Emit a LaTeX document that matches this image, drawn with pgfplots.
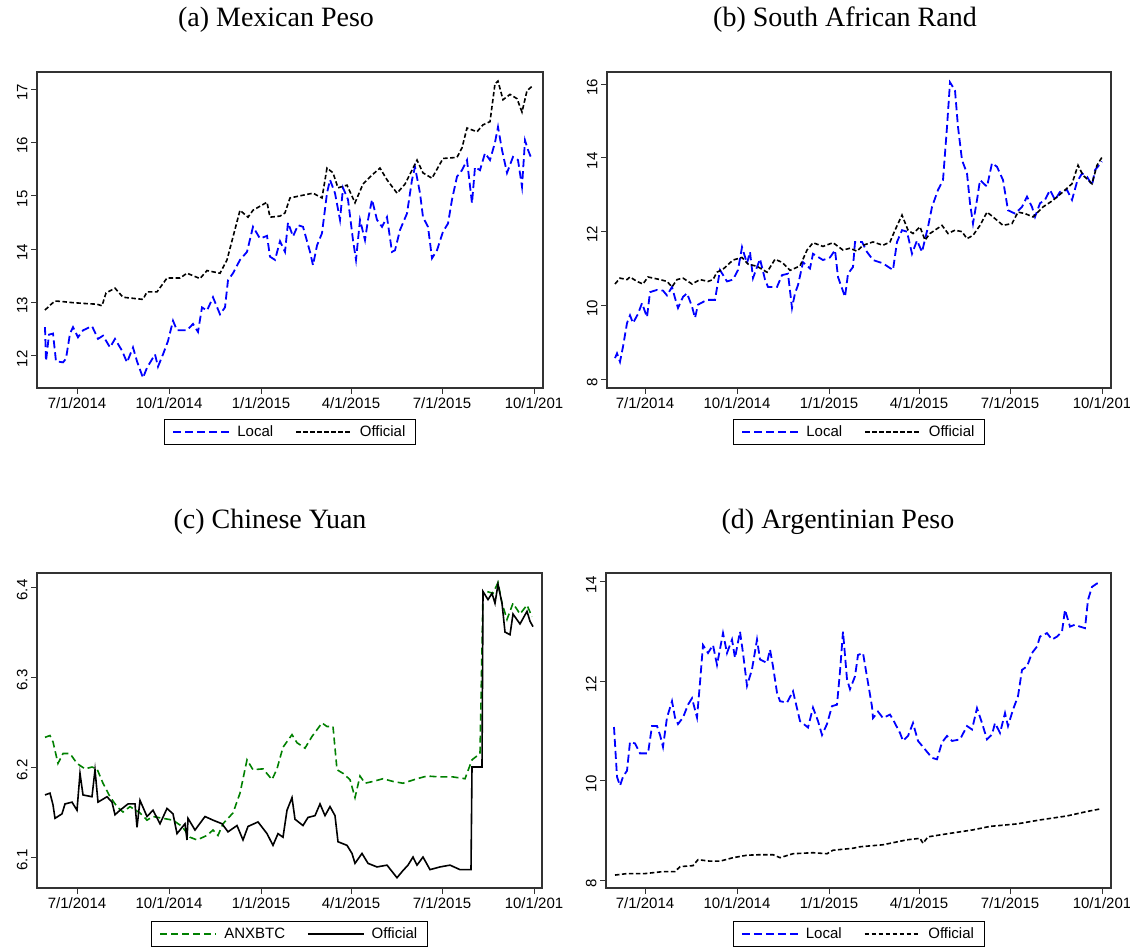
\documentclass[border=0pt]{standalone}
\usepackage{fontspec}
\setmainfont{Liberation Sans}
\newfontfamily\titlefont{Liberation Serif}
\usepackage{pgfplots}
\pgfplotsset{compat=1.18}
\definecolor{lblue}{RGB}{0,0,255}
\definecolor{dgreen}{RGB}{0,128,0}
\pgfplotsset{
  panel/.style={
    scale only axis, anchor=south west,
    axis line style={line width=1.3pt, black!80},
    tick style={line width=1pt, black!80},
    tick align=outside, major tick length=6pt,
    xtick pos=left, ytick pos=left,
    xtick={0,92,184,274,365,457},
    xticklabels={7/1/2014,10/1/2014,1/1/2015,4/1/2015,7/1/2015,10/1/201},
    ticklabel style={font=\fontsize{15}{17}\selectfont},
    yticklabel style={rotate=90, anchor=south, xshift=-3pt},
    legend columns=2,
    legend style={anchor=north, draw=black, line width=0.8pt,
      font=\fontsize{15}{17}\selectfont, inner xsep=8pt, inner ysep=4.5pt,
      /tikz/every odd column/.append style={column sep=5pt},
      /tikz/every even column/.append style={column sep=20pt}},
    legend image code/.code={\draw[##1] (0pt,0pt) -- (56pt,0pt);},
  },
  loc/.style={color=lblue, line width=1.8pt, dash pattern=on 8pt off 4pt},
  off/.style={color=black, line width=1.6pt, dash pattern=on 4.5pt off 2.5pt},
}
\begin{document}
\begin{tikzpicture}[x=1pt,y=1pt]
\path[use as bounding box] (0pt,0pt) rectangle (1130pt,948pt);
\node[font=\titlefont\fontsize{28}{32}\selectfont, anchor=base] at (276pt,921pt) {(a) Mexican Peso};
\node[font=\titlefont\fontsize{28}{32}\selectfont, anchor=base] at (845pt,921pt) {(b) South African Rand};
\node[font=\titlefont\fontsize{28}{32}\selectfont, anchor=base] at (270pt,419pt) {(c) Chinese Yuan};
\node[font=\titlefont\fontsize{28}{32}\selectfont, anchor=base] at (838pt,419pt) {(d) Argentinian Peso};

% (a)
\begin{axis}[panel, at={(37pt,560pt)}, width=506pt, height=316pt,
  xmin=-40, xmax=466, ymin=11.40, ymax=17.32,
  ytick={12,13,14,15,16,17}, yticklabels={12,13,14,15,16,17},
  legend style={at={(0.5,-0.098)}}]
\addplot[loc] coordinates {(-32,12.54) (-31,11.9) (-28,12.4) (-24,12.42) (-21,11.9) (-14,11.88) (-11,11.95) (-7,12.42) (-4,12.54) (1,12.35) (6,12.48) (15,12.56) (21,12.32) (26,12.38) (33,12.16) (38,12.32) (45,12.1) (50,11.88) (56,12.16) (60,11.9) (66,11.59) (70,11.78) (78,12.03) (81,11.8) (86,12.03) (91,12.28) (96,12.66) (100,12.48) (110,12.48) (116,12.6) (121,12.45) (125,12.91) (130,12.85) (136,13.1) (143,12.78) (148,12.91) (151,13.42) (156,13.55) (163,13.8) (170,13.95) (176,14.42) (183,14.2) (190,14.25) (193,13.86) (198,13.8) (203,14.15) (208,13.95) (211,14.5) (216,14.24) (221,14.45) (226,14.42) (233,13.95) (236,13.7) (240,14.07) (245,14.3) (250,15.05) (253,15.3) (258,15.05) (263,14.55) (266,15.15) (271,14.93) (276,14.17) (279,13.8) (283,14.55) (288,14.17) (291,14.55) (295,14.93) (300,14.55) (305,14.42) (310,14.6) (315,13.95) (318,13.98) (323,14.36) (330,14.67) (335,15.3) (338,15.54) (343,15.05) (346,14.6) (351,14.42) (355,13.83) (360,13.98) (366,14.33) (371,14.48) (375,14.93) (380,15.36) (385,15.48) (390,15.67) (395,14.86) (398,15.54) (403,15.48) (408,15.8) (413,15.67) (418,16.0) (421,16.29) (425,15.86) (430,15.43) (436,15.73) (441,15.67) (445,15.17) (448,16.04) (451,15.86) (455,15.67)};
\addlegendentry{Local}
\addplot[off] coordinates {(-32,12.86) (-27,12.95) (-22,13.03) (-15,13.02) (-5,13.0) (10,12.98) (20,12.97) (25,12.94) (29,13.18) (38,13.27) (46,13.1) (56,13.08) (66,13.06) (70,13.2) (80,13.2) (90,13.46) (103,13.46) (110,13.55) (123,13.45) (130,13.6) (143,13.55) (150,13.8) (156,14.23) (163,14.73) (171,14.6) (176,14.73) (190,14.88) (193,14.6) (203,14.62) (208,14.68) (213,14.96) (223,15.0) (236,15.05) (245,14.96) (250,15.52) (256,15.43) (261,15.15) (270,15.2) (278,14.87) (286,15.22) (295,15.39) (303,15.52) (310,15.3) (320,15.05) (328,15.22) (340,15.67) (346,15.43) (355,15.33) (366,15.7) (380,15.72) (385,15.9) (390,16.27) (400,16.2) (406,16.33) (413,16.39) (418,17.1) (421,17.15) (426,16.8) (433,16.9) (440,16.82) (445,16.57) (450,16.97) (455,17.05)};
\addlegendentry{Official}
\end{axis}

% (b)
\begin{axis}[panel, at={(607pt,560pt)}, width=504pt, height=316pt,
  xmin=-38, xmax=466, ymin=7.76, ymax=16.33,
  ytick={8,10,12,14,16}, yticklabels={8,10,12,14,16},
  legend style={at={(0.5,-0.098)}}]
\addplot[loc] coordinates {(-30,8.57) (-28,8.7) (-25,8.47) (-22,8.88) (-18,9.52) (-15,9.73) (-12,9.52) (-7,9.77) (-3,10.06) (2,9.68) (5,10.36) (12,10.42) (18,10.4) (22,10.27) (27,10.5) (30,10.2) (33,9.93) (38,10.23) (42,10.33) (47,9.97) (50,9.66) (53,10.02) (62,10.15) (70,10.15) (75,10.96) (82,10.65) (88,10.7) (93,10.96) (97,11.58) (102,11.14) (105,11.45) (108,10.74) (115,11.26) (120,10.7) (123,10.5) (132,10.5) (137,10.82) (143,10.86) (147,9.93) (150,10.33) (153,10.55) (158,11.17) (165,11.0) (168,11.4) (178,11.23) (185,11.3) (190,11.5) (193,10.77) (200,10.23) (203,10.86) (208,11.04) (210,11.72) (217,11.72) (222,11.45) (228,11.23) (238,11.14) (248,10.96) (252,11.72) (257,12.04) (262,12.0) (267,11.4) (272,11.76) (277,11.45) (283,12.13) (287,12.67) (293,13.13) (298,13.4) (302,14.84) (305,16.05) (310,15.83) (313,14.84) (317,13.94) (322,13.58) (325,12.77) (328,12.22) (332,12.86) (335,13.4) (342,13.22) (347,13.86) (352,13.76) (358,13.4) (363,12.58) (370,12.49) (377,12.67) (382,12.95) (387,12.67) (390,12.4) (395,12.77) (400,12.86) (405,13.13) (410,12.86) (415,13.08) (422,13.13) (427,12.86) (432,13.35) (437,13.58) (442,13.49) (447,13.26) (450,13.67) (457,13.9)};
\addlegendentry{Local}
\addplot[off] coordinates {(-30,10.58) (-25,10.74) (-18,10.7) (-15,10.77) (-8,10.65) (-2,10.58) (3,10.77) (15,10.7) (22,10.65) (27,10.5) (32,10.7) (38,10.74) (47,10.58) (55,10.7) (63,10.65) (68,10.7) (72,10.9) (78,10.98) (88,11.23) (97,11.3) (103,11.12) (112,11.06) (122,10.9) (130,11.25) (137,11.17) (145,10.95) (155,11.07) (162,11.5) (168,11.7) (178,11.6) (188,11.7) (198,11.5) (205,11.55) (212,11.47) (218,11.63) (228,11.72) (238,11.63) (245,11.72) (250,12.04) (257,12.45) (263,12.04) (268,11.95) (275,12.13) (280,11.77) (285,11.95) (297,12.17) (303,11.95) (310,12.04) (317,12.0) (322,11.81) (328,11.9) (335,12.17) (342,12.53) (348,12.4) (358,12.17) (367,12.22) (373,12.53) (380,12.49) (388,12.4) (398,12.67) (408,12.85) (418,13.08) (427,13.3) (433,13.8) (438,13.53) (447,13.3) (452,13.8) (457,14.02)};
\addlegendentry{Official}
\end{axis}

% (c)
\begin{axis}[panel, at={(37pt,60pt)}, width=505pt, height=315pt,
  xmin=-40, xmax=465, ymin=6.0656, ymax=6.4156,
  ytick={6.1,6.2,6.3,6.4}, yticklabels={6.1,6.2,6.3,6.4},
  legend style={at={(0.5,-0.105)}}]
\addplot[color=dgreen, line width=1.6pt, dash pattern=on 7pt off 4pt] coordinates {(-32,6.233) (-27,6.235) (-24,6.228) (-19,6.204) (-14,6.215) (-7,6.215) (0,6.204) (8,6.198) (15,6.2) (20,6.198) (26,6.182) (33,6.167) (40,6.156) (46,6.15) (53,6.156) (63,6.149) (70,6.141) (76,6.145) (86,6.143) (96,6.141) (105,6.134) (113,6.122) (120,6.119) (130,6.124) (136,6.13) (141,6.124) (146,6.137) (156,6.149) (163,6.171) (170,6.208) (176,6.197) (186,6.198) (195,6.186) (200,6.198) (206,6.222) (215,6.236) (220,6.227) (228,6.221) (235,6.234) (245,6.249) (250,6.245) (256,6.245) (260,6.197) (266,6.193) (273,6.186) (278,6.166) (283,6.19) (288,6.182) (296,6.184) (306,6.187) (316,6.184) (326,6.182) (340,6.187) (350,6.19) (363,6.189) (376,6.189) (388,6.187) (395,6.208) (403,6.215) (406,6.393) (410,6.395) (416,6.393) (421,6.405) (425,6.382) (430,6.364) (436,6.382) (443,6.37) (450,6.38) (455,6.367)};
\addlegendentry{ANXBTC}
\addplot[color=black, line width=1.6pt] coordinates {(-32,6.169) (-27,6.171) (-24,6.158) (-22,6.143) (-15,6.148) (-12,6.159) (-5,6.161) (0,6.152) (3,6.193) (6,6.169) (15,6.167) (18,6.197) (21,6.161) (30,6.167) (35,6.161) (38,6.147) (43,6.152) (51,6.159) (58,6.159) (60,6.133) (63,6.163) (70,6.145) (76,6.152) (83,6.137) (90,6.154) (96,6.148) (100,6.126) (108,6.137) (110,6.119) (111,6.143) (118,6.13) (128,6.145) (136,6.141) (145,6.137) (151,6.128) (160,6.135) (166,6.119) (171,6.134) (181,6.139) (190,6.126) (196,6.113) (201,6.126) (206,6.122) (210,6.152) (215,6.166) (218,6.142) (226,6.135) (231,6.144) (238,6.146) (243,6.159) (248,6.146) (253,6.156) (258,6.146) (261,6.117) (270,6.113) (275,6.104) (278,6.093) (285,6.104) (291,6.093) (300,6.089) (310,6.091) (320,6.077) (326,6.085) (331,6.091) (336,6.1) (340,6.091) (346,6.1) (353,6.086) (363,6.089) (373,6.091) (383,6.086) (394,6.086) (395,6.2) (405,6.2) (406,6.395) (411,6.386) (415,6.393) (418,6.382) (421,6.403) (425,6.382) (428,6.35) (433,6.347) (436,6.37) (443,6.359) (450,6.373) (453,6.362) (456,6.356)};
\addlegendentry{Official}
\end{axis}

% (d)
\begin{axis}[panel, at={(606pt,60pt)}, width=505pt, height=315pt,
  xmin=-39, xmax=466, ymin=7.84, ymax=14.18,
  ytick={8,10,12,14}, yticklabels={8,10,12,14},
  legend style={at={(0.5,-0.105)}}]
\addplot[loc] coordinates {(-31,11.08) (-28,10.08) (-25,9.9) (-22,10.08) (-18,10.2) (-15,10.78) (-10,10.75) (-5,10.55) (3,10.55) (7,11.1) (12,11.1) (15,10.92) (18,10.68) (22,11.27) (27,11.6) (30,11.27) (33,11.14) (38,11.27) (43,11.53) (47,11.66) (52,11.27) (55,11.97) (58,12.73) (63,12.57) (68,12.73) (72,12.33) (78,12.97) (82,12.57) (87,12.84) (90,12.47) (95,13.0) (98,12.57) (102,11.91) (107,12.24) (112,12.84) (115,12.44) (122,12.37) (125,12.64) (128,12.3) (132,11.77) (135,11.6) (142,11.57) (148,11.8) (155,11.2) (163,11.07) (168,11.47) (173,11.2) (177,10.92) (182,11.14) (187,11.5) (192,11.53) (195,12.2) (198,13.0) (202,12.04) (205,11.84) (210,12.1) (213,12.53) (218,12.57) (223,11.97) (227,11.49) (228,11.26) (233,11.39) (238,11.26) (245,11.33) (248,11.23) (255,10.96) (258,10.8) (263,10.9) (268,11.16) (273,10.8) (280,10.63) (287,10.46) (292,10.43) (297,10.77) (302,10.9) (307,10.8) (315,10.83) (322,11.1) (327,11.03) (332,11.46) (337,11.16) (342,10.83) (347,10.93) (350,11.16) (355,10.96) (360,11.36) (363,11.1) (368,11.43) (373,11.7) (377,12.23) (382,12.3) (387,12.57) (392,12.7) (395,12.9) (402,12.97) (407,12.84) (412,12.9) (417,13.0) (420,13.44) (425,13.1) (430,13.14) (435,13.1) (440,13.07) (443,13.64) (447,13.9) (452,13.97) (455,13.97)};
\addlegendentry{Local}
\addplot[off] coordinates {(-30,8.1) (-18,8.13) (0,8.13) (18,8.17) (30,8.17) (35,8.27) (48,8.29) (53,8.41) (65,8.38) (75,8.38) (88,8.45) (102,8.5) (115,8.51) (128,8.51) (135,8.45) (148,8.53) (168,8.55) (182,8.53) (188,8.6) (208,8.64) (215,8.67) (238,8.71) (262,8.81) (275,8.84) (278,8.74) (283,8.87) (305,8.94) (328,9.01) (345,9.08) (372,9.13) (395,9.21) (422,9.29) (442,9.38) (455,9.43)};
\addlegendentry{Official}
\end{axis}
\end{tikzpicture}
\end{document}
